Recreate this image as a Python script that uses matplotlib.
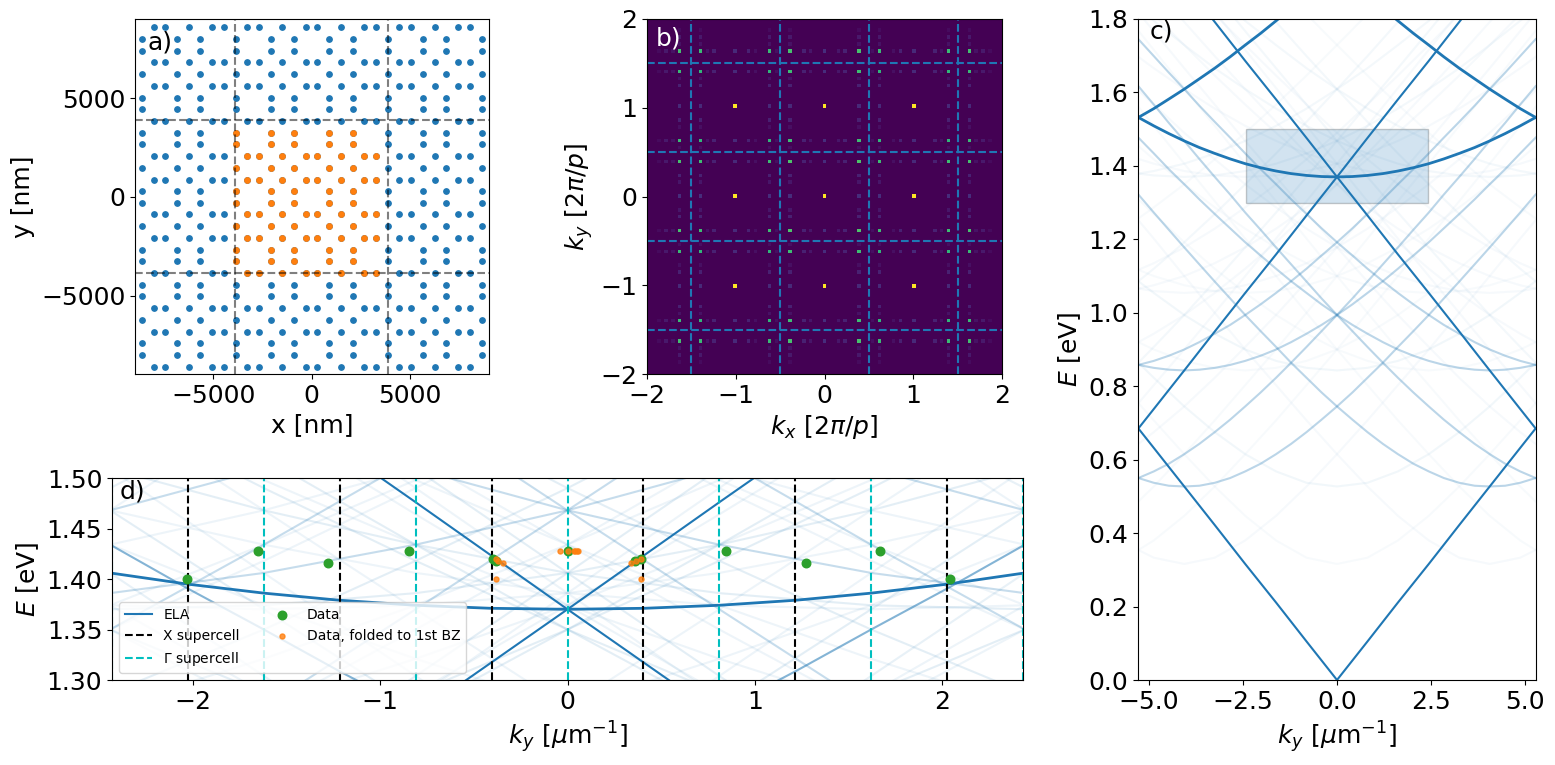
#!/usr/bin/env python3
"""Lattice, its Fourier transform and folded dispersion (panels a-d)."""

import matplotlib
matplotlib.use('Agg')
import matplotlib.pyplot as plt
import numpy as np
from matplotlib.patches import Rectangle

plt.rcParams['font.size'] = 18

# a) hole positions in nm, positive half only (mirrored when drawn)
coords_inner = [280, 1480, 2670, 3260, 4460, 5040, 6250, 7430, 8020]
coords_outer = [880, 2085, 3865, 5650, 6835, 8630]
supercell_edge = 3865

# b) Fourier peaks, in steps of 1/13 of 2pi/p
bright_peaks = [-13, 0, 13]
green_peaks = [5, 8, 18, 21]
green_values = [0.72, 0.66, 0.66, 0.70]
faint_peaks = [0, 2, 3, 7, 10, 11, 13, 16, 17, 22, 23, 24]
faint_values = [0.13, 0.06, 0.09, 0.04, 0.04, 0.09, 0.12, 0.09, 0.05, 0.05, 0.07, 0.03]

# c), d) energy in eV of each band, read at these k values
k_fine = [-5.28, -4.87, -4.47, -4.06, -3.66, -3.25, -2.84, -2.44, -2.03, -1.62, -1.22, -0.81, -0.41, 0,
          0.41, 0.81, 1.22, 1.62, 2.03, 2.44, 2.84, 3.25, 3.66, 4.06, 4.47, 4.87, 5.28]
flat_13 = [1.532, 1.509, 1.488, 1.468, 1.450, 1.434, 1.419, 1.406, 1.395, 1.386, 1.379, 1.374, 1.371, 1.370,
           1.371, 1.374, 1.379, 1.386, 1.395, 1.406, 1.419, 1.434, 1.450, 1.468, 1.488, 1.509, 1.532]
upper_13 = [2.47, 2.427, 2.383, 2.34, 2.298, 2.256, 2.214, 2.173, 2.132, 2.092, 2.052, 2.013, 1.975, 1.938,
            1.900, 1.865, 1.829, 1.795, 1.761, 1.729, 1.697, 1.666, 1.637, 1.609, 1.582, 1.556, 1.532]
band_5_5 = [1.322, 1.273, 1.226, 1.178, 1.132, 1.085, 1.039, .994, .950, .907, .864, .823, .783, .745,
            .709, .675, .643, .615, .589, .568, .550, .537, .529, .527, .529, .537, .550]
band_8_5 = [1.477, 1.434, 1.391, 1.350, 1.309, 1.269, 1.230, 1.192, 1.156, 1.120, 1.086, 1.054, 1.023, .994,
            .967, .943, .920, .900, .883, .869, .858, .850, .845, .843, .845, .850, .858]
band_5_8 = [1.617, 1.567, 1.517, 1.468, 1.419, 1.370, 1.322, 1.273, 1.226, 1.178, 1.132, 1.085, 1.039, .994,
            .950, .907, .864, .823, .783, .745, .709, .675, .643, .615, .589, .568, .550]
band_8_8 = [1.745, 1.699, 1.654, 1.609, 1.564, 1.520, 1.477, 1.434, 1.391, 1.350, 1.309, 1.269, 1.230, 1.192,
            1.156, 1.120, 1.086, 1.054, 1.023, .994, .967, .943, .920, .900, .883, .869, .858]

k_grid = [-5.28, -4.87, -4.06, -3.25, -2.44, -1.62, -0.81, 0, 0.81, 1.62, 2.44, 3.25, 4.06, 4.87, 5.28]
cone = [.685, .632, .527, .422, .316, .211, .105, 0, .105, .211, .316, .422, .527, .632, .685]
cross_13 = [2.055, 2.003, 1.897, 1.792, 1.686, 1.581, 1.476, 1.370, 1.265, 1.159, 1.054, .949, .843, .738, .685]
band_5_13 = [2.122, 2.071, 1.969, 1.868, 1.767, 1.666, 1.567, 1.468, 1.370, 1.273, 1.178, 1.085, .994, .907, .864]
band_13_5 = [1.829, 1.795, 1.729, 1.666, 1.609, 1.556, 1.509, 1.468, 1.434, 1.406, 1.386, 1.374, 1.370, 1.374, 1.379]
band_8_13 = [2.221, 2.173, 2.076, 1.980, 1.885, 1.792, 1.699, 1.609, 1.520, 1.434, 1.350, 1.269, 1.192, 1.120, 1.086]
band_13_8 = [2.052, 2.013, 1.937, 1.865, 1.795, 1.729, 1.666, 1.609, 1.556, 1.509, 1.468, 1.434, 1.406, 1.386, 1.379]
band_3_5 = [1.252, 1.202, 1.100, 1.000, .900, .803, .707, .615, .527, .447, .380, .333, .316, .333, .354]
band_3_8 = [1.561, 1.509, 1.406, 1.304, 1.202, 1.100, 1.000, .900, .803, .707, .615, .527, .447, .380, .354]
band_10_5 = [1.606, 1.567, 1.490, 1.418, 1.350, 1.287, 1.229, 1.178, 1.135, 1.100, 1.075, 1.059, 1.054, 1.059, 1.066]
band_10_8 = [1.856, 1.813, 1.729, 1.646, 1.567, 1.490, 1.418, 1.350, 1.287, 1.229, 1.178, 1.135, 1.100, 1.075, 1.066]
band_10_10 = [2.034, 1.989, 1.900, 1.813, 1.729, 1.646, 1.567, 1.490, 1.418, 1.350, 1.287, 1.229, 1.178, 1.135, 1.117]
band_10_13 = [2.310, 2.263, 2.170, 2.079, 1.989, 1.900, 1.813, 1.729, 1.646, 1.567, 1.490, 1.418, 1.350, 1.287, 1.257]
band_3_13 = [2.079, 2.027, 1.923, 1.819, 1.716, 1.612, 1.509, 1.406, 1.304, 1.202, 1.100, 1.000, .900, .803, .754]
band_13_3 = [1.697, 1.666, 1.609, 1.556, 1.509, 1.468, 1.434, 1.406, 1.386, 1.374, 1.370, 1.374, 1.386, 1.406, 1.419]
band_8_10 = [1.933, 1.885, 1.792, 1.699, 1.609, 1.520, 1.434, 1.350, 1.269, 1.192, 1.120, 1.054, .994, .943, .920]
band_10_3 = [1.454, 1.418, 1.350, 1.287, 1.229, 1.178, 1.135, 1.100, 1.075, 1.059, 1.054, 1.059, 1.075, 1.100, 1.117]
band_3_10 = [1.768, 1.716, 1.612, 1.509, 1.406, 1.304, 1.202, 1.100, 1.000, .900, .803, .707, .615, .527, .486]
band_5_10 = [1.817, 1.767, 1.666, 1.567, 1.468, 1.370, 1.273, 1.178, 1.085, .994, .907, .823, .745, .675, .643]
band_8_3 = [1.309, 1.269, 1.192, 1.120, 1.054, .994, .943, .900, .869, .850, .843, .850, .869, .900, .920]
band_5_0 = [.864, .823, .745, .675, .615, .568, .537, .527, .537, .568, .615, .675, .745, .823, .864]
band_8_0 = [1.086, 1.054, .994, .943, .900, .869, .850, .843, .850, .869, .900, .943, .994, 1.054, 1.086]
band_3_0 = [.754, .707, .615, .527, .447, .380, .333, .316, .333, .380, .447, .527, .615, .707, .754]

# pale bands only drawn in d, over its narrower k range
k_narrow = [-2.44, -1.62, -0.81, 0, 0.81, 1.62, 2.44]
pale_11_5 = [1.434, 1.374, 1.321, 1.273, 1.234, 1.202, 1.178]
pale_5_11 = [1.567, 1.468, 1.370, 1.273, 1.178, 1.085, .994]
pale_8_11 = [1.699, 1.609, 1.520, 1.434, 1.350, 1.269, 1.192]
pale_11_8 = [1.640, 1.567, 1.498, 1.434, 1.374, 1.321, 1.273]
pale_8_7 = [1.350, 1.269, 1.192, 1.120, 1.054, .994, .943]
pale_7_8 = [1.374, 1.287, 1.202, 1.120, 1.043, .972, .907]
pale_5_16 = [2.071, 1.969, 1.868, 1.767, 1.666, 1.567, 1.468]
pale_11_10 = [1.795, 1.716, 1.640, 1.567, 1.498, 1.434, 1.374]
pale_10_11 = [1.813, 1.729, 1.646, 1.567, 1.490, 1.418, 1.350]
pale_3_11 = [1.509, 1.406, 1.304, 1.202, 1.100, 1.000, .900]
pale_2_13 = [1.699, 1.595, 1.490, 1.386, 1.282, 1.178, 1.075]
pale_13_2 = [1.468, 1.434, 1.406, 1.386, 1.374, 1.370, 1.374]
pale_13_7 = [1.729, 1.666, 1.609, 1.556, 1.509, 1.468, 1.434]
pale_7_11 = [1.650, 1.556, 1.464, 1.374, 1.287, 1.202, 1.120]
pale_11_7 = [1.567, 1.498, 1.434, 1.374, 1.321, 1.273, 1.234]

# d) markers
x_lines = [-2.025, -1.215, -0.405, 0.405, 1.215, 2.025]
gamma_lines = [-2.43, -1.62, -0.81, 0, 0.81, 1.62, 2.43]
data_k = [-2.03, -1.653, -1.276, -0.845, -0.40, -0.38, 0, 0.362, 0.392, 0.847, 1.272, 1.666, 2.04]
data_e = [1.40, 1.428, 1.4155, 1.428, 1.42, 1.418, 1.428, 1.418, 1.42, 1.428, 1.4155, 1.428, 1.40]
folded_k = [-0.38, -0.37, -0.345, -0.38, -0.04, 0, 0.036, 0.05, 0.04, 0.058, 0.339, 0.365, 0.392, 0.392]
folded_e = [1.42, 1.418, 1.416, 1.40, 1.428, 1.428, 1.428, 1.428, 1.428, 1.428, 1.416, 1.418, 1.42, 1.40]


def rect(left, top, right, bottom):
    return [left / 1555, 1 - bottom / 765, (right - left) / 1555, (bottom - top) / 765]


fig = plt.figure(figsize=(15.55, 7.65), dpi=100)
ax_a = fig.add_axes(rect(135, 19, 489, 374))
ax_b = fig.add_axes(rect(647, 19, 1002, 374))
ax_c = fig.add_axes(rect(1138, 19, 1536, 680))
ax_d = fig.add_axes(rect(112, 478, 1023, 680))

# Panel a
inner = np.array(coords_inner)
outer = np.array(coords_outer)
inner = np.concatenate([-inner[::-1], inner])
outer = np.concatenate([-outer[::-1], outer])
xa, ya = np.meshgrid(inner, outer)
xb, yb = np.meshgrid(outer, inner)
holes_x = np.concatenate([xa.ravel(), xb.ravel()])
holes_y = np.concatenate([ya.ravel(), yb.ravel()])
ax_a.scatter(holes_x, holes_y, s=15, color='C0')
in_cell = (holes_x >= -supercell_edge) & (holes_x < supercell_edge) & (holes_y >= -supercell_edge) & (holes_y < supercell_edge)
ax_a.scatter(holes_x[in_cell], holes_y[in_cell], s=15, color='C1')
for v in [-3880, 3880]:
    ax_a.axvline(v, color='k', ls='--', alpha=0.5)
for v in [-3850, 3890]:
    ax_a.axhline(v, color='k', ls='--', alpha=0.5)
ax_a.set_xlim(-8970, 9010)
ax_a.set_ylim(-8980, 9030)
ax_a.set_xticks([-5000, 0, 5000])
ax_a.set_yticks([-5000, 0, 5000])
ax_a.set_xlabel('x [nm]')
ax_a.set_ylabel('y [nm]')
ax_a.text(0.035, 0.915, 'a)', transform=ax_a.transAxes)

# Panel b: peaks sit on every second pixel of the image
half = 52
image = np.zeros((2 * half + 1, 2 * half + 1))
for sx in [-1, 1]:
    for sy in [-1, 1]:
        for p, pv in zip(green_peaks, green_values):
            for f, fv in zip(faint_peaks, faint_values):
                image[half + sy * 2 * p, half + sx * 2 * f] = fv
                image[half + sy * 2 * f, half + sx * 2 * p] = fv
        for p, pv in zip(green_peaks, green_values):
            for q, qv in zip(green_peaks, green_values):
                image[half + sy * 2 * p, half + sx * 2 * q] = (pv + qv) / 2
for p in bright_peaks:
    for q in bright_peaks:
        image[half + 2 * p, half + 2 * q] = 1.0
step = 1.01 / 26
ax_b.imshow(image, origin='lower', cmap='viridis', vmin=0, vmax=1, aspect='auto',
            extent=[-(half + 0.5) * step, (half + 0.5) * step, -(half + 0.5) * step, (half + 0.5) * step])
for v in [-1.5, -0.5, 0.5, 1.5]:
    ax_b.axvline(v, color='C0', ls='--')
    ax_b.axhline(v, color='C0', ls='--')
ax_b.set_xlim(-2, 2)
ax_b.set_ylim(-2, 2)
ax_b.set_xticks([-2, -1, 0, 1, 2])
ax_b.set_yticks([-2, -1, 0, 1, 2])
ax_b.set_xlabel(r'$k_x$ [$2\pi/p$]')
ax_b.set_ylabel(r'$k_y$ [$2\pi/p$]')
ax_b.text(0.025, 0.925, 'b)', color='w', transform=ax_b.transAxes)

# Panels c and d share the same bands: (k, values, mirrored?, alpha in c, alpha in d)
k = np.array(k_grid)
kf = np.array(k_fine)
bands = [
    (k, band_3_0, False, 0.03, 0.06), (k, band_5_0, False, 0.06, 0.06), (k, band_8_0, False, 0.06, 0.06),
    (k, band_3_5, True, 0.04, 0.06), (k, band_3_8, True, 0.03, 0.06), (k, band_8_3, True, 0.03, 0.06),
    (k, band_10_3, True, 0.03, 0.10), (k, band_3_10, True, 0.03, 0.10), (k, band_5_10, True, 0.04, 0.12),
    (k, band_8_10, True, 0.04, 0.12), (k, band_10_5, True, 0.04, 0.12), (k, band_10_8, True, 0.04, 0.12),
    (k, band_10_10, True, 0.04, 0.12), (k, band_10_13, True, 0.03, 0.10), (k, band_3_13, True, 0.04, 0.12),
    (k, band_13_3, True, 0.04, 0.12),
    (k, band_5_13, True, 0.05, 0.25), (k, band_13_5, True, 0.05, 0.25), (k, band_8_13, True, 0.05, 0.25),
    (k, band_13_8, True, 0.05, 0.25),
    (kf, band_5_5, True, 0.3, 0.3), (kf, band_8_5, True, 0.3, 0.3), (kf, band_5_8, True, 0.3, 0.3),
    (kf, band_8_8, True, 0.3, 0.55),
]
main_bands = [(k, cone, False, 1.5), (kf, flat_13, False, 2.0), (k, cross_13, True, 1.5), (kf, upper_13, True, 2.0)]
pale_bands = [pale_11_5, pale_5_11, pale_8_11, pale_11_8, pale_8_7, pale_7_8, pale_5_16, pale_11_10,
              pale_10_11, pale_3_11, pale_2_13, pale_13_2, pale_13_7, pale_7_11, pale_11_7]

for values in pale_bands:
    ax_d.plot(k_narrow, values, color='C0', alpha=0.08)
    ax_d.plot(-np.array(k_narrow), values, color='C0', alpha=0.08)

for ax, col in [(ax_c, 3), (ax_d, 4)]:
    for band in bands:
        ax.plot(band[0], band[1], color='C0', alpha=band[col])
        if band[2]:
            ax.plot(-band[0], band[1], color='C0', alpha=band[col])
    first = True
    for kv, values, mirrored, lw in main_bands:
        ax.plot(kv, values, color='C0', lw=lw, label='ELA' if first else None)
        if mirrored:
            ax.plot(-kv, values, color='C0', lw=lw)
        first = False

# Panel c
ax_c.add_patch(Rectangle((-2.43, 1.3), 4.86, 0.2, fc='C0', ec='k', alpha=0.2))
ax_c.set_xlim(-5.29, 5.29)
ax_c.set_ylim(0, 1.8)
ax_c.set_xticks([-5, -2.5, 0, 2.5, 5])
ax_c.set_yticks(np.arange(0, 1.81, 0.2))
ax_c.set_xlabel(r'$k_y$ [$\mu$m$^{-1}$]')
ax_c.set_ylabel(r'$E$ [eV]')
ax_c.text(0.028, 0.971, 'c)', transform=ax_c.transAxes)

# Panel d
for i, v in enumerate(x_lines):
    ax_d.axvline(v, color='k', ls='--', label='X supercell' if i == 0 else None)
for i, v in enumerate(gamma_lines):
    ax_d.axvline(v, color='c', ls='--', label=r'$\Gamma$ supercell' if i == 0 else None)
ax_d.scatter(data_k, data_e, s=38, color='C2', label='Data', zorder=3)
ax_d.scatter(folded_k, folded_e, s=13, color='C1', alpha=0.8, label='Data, folded to 1st BZ', zorder=4)
ax_d.set_xlim(-2.43, 2.43)
ax_d.set_ylim(1.3, 1.5)
ax_d.set_xticks([-2, -1, 0, 1, 2])
ax_d.set_yticks([1.3, 1.35, 1.4, 1.45, 1.5])
ax_d.set_xlabel(r'$k_y$ [$\mu$m$^{-1}$]')
ax_d.set_ylabel(r'$E$ [eV]')
ax_d.text(0.008, 0.9, 'd)', transform=ax_d.transAxes)
ax_d.legend(loc='lower left', ncol=2, fontsize=10)

fig.savefig('out.png', dpi=100)
